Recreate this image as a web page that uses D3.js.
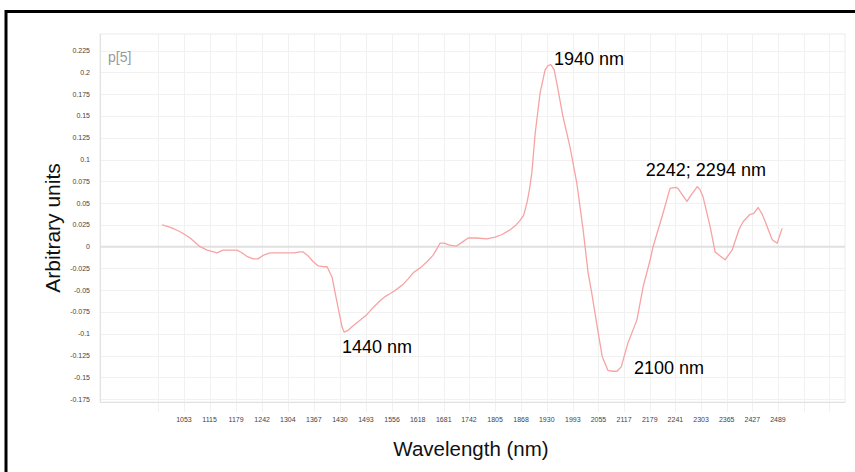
<!DOCTYPE html>
<html>
<head>
<meta charset="utf-8">
<script src="https://cdn.jsdelivr.net/npm/d3@7"></script>
<style>
  html, body { margin: 0; padding: 0; background: #fff; }
  svg { display: block; font-family: "Liberation Sans", Arial, sans-serif; }
</style>
</head>
<body>
<svg id="chart" width="855" height="472"></svg>
<script>
// Spectrum: wavelength (nm) and loading value (arbitrary units)
const wavelengths = [
  1000, 1015, 1026, 1040, 1048, 1068, 1092, 1109, 1125, 1133, 1147, 1165, 1181, 1193,
  1205, 1220, 1232, 1244, 1261, 1280, 1302, 1320, 1333, 1341, 1352, 1365, 1377, 1390,
  1399, 1411, 1423, 1435, 1440, 1450, 1459, 1475, 1495, 1510, 1527, 1540, 1551, 1567,
  1583, 1595, 1607, 1625, 1641, 1655, 1665, 1672, 1682, 1693, 1705, 1713, 1725, 1740,
  1760, 1786, 1805, 1822, 1840, 1856, 1865, 1874, 1882, 1888, 1894, 1902, 1914, 1926,
  1933, 1940, 1948, 1955, 1969, 1986, 2003, 2018, 2030, 2039, 2052, 2064, 2078, 2090,
  2100, 2110, 2126, 2148, 2163, 2180, 2187, 2209, 2228, 2242, 2247, 2260, 2269, 2280,
  2294, 2300, 2308, 2325, 2337, 2350, 2361, 2378, 2395, 2405, 2421, 2430, 2441, 2450,
  2458, 2475, 2487, 2499
];
const loadings = [
  0.025, 0.023, 0.021, 0.018, 0.016, 0.010, 0.000, -0.004, -0.006, -0.007, -0.004, -0.004, -0.004, -0.007,
  -0.011, -0.014, -0.014, -0.010, -0.007, -0.007, -0.007, -0.007, -0.006, -0.006, -0.010, -0.017, -0.022, -0.023,
  -0.023, -0.035, -0.064, -0.092, -0.098, -0.096, -0.092, -0.086, -0.078, -0.070, -0.062, -0.057, -0.054, -0.049,
  -0.043, -0.037, -0.030, -0.024, -0.017, -0.010, -0.002, 0.004, 0.004, 0.002, 0.001, 0.001, 0.005, 0.010,
  0.010, 0.009, 0.011, 0.014, 0.019, 0.025, 0.030, 0.036, 0.050, 0.065, 0.085, 0.130, 0.177, 0.203,
  0.208, 0.209, 0.203, 0.186, 0.150, 0.115, 0.072, 0.019, -0.030, -0.054, -0.092, -0.126, -0.142, -0.143,
  -0.143, -0.138, -0.111, -0.084, -0.046, -0.015, 0.000, 0.035, 0.067, 0.068, 0.067, 0.058, 0.052, 0.060,
  0.069, 0.066, 0.057, 0.023, -0.006, -0.011, -0.015, -0.004, 0.020, 0.029, 0.037, 0.038, 0.045, 0.038,
  0.029, 0.008, 0.004, 0.021
];

// Axis ticks
const xTickValues = [1053, 1115, 1179, 1242, 1304, 1367, 1430, 1493, 1556, 1618, 1681, 1742,
                     1805, 1868, 1930, 1993, 2055, 2117, 2179, 2241, 2303, 2365, 2427, 2489];
const xUnlabeledGrid = [991, 2551, 2613];
const yTickValues = [-0.175, -0.15, -0.125, -0.1, -0.075, -0.05, -0.025, 0,
                     0.025, 0.05, 0.075, 0.1, 0.125, 0.15, 0.175, 0.2, 0.225];

// Band annotations
const annotationText = ["1940 nm", "1440 nm", "2100 nm", "2242; 2294 nm"];
const annotationWl   = [1940, 1440, 2100, 2242];
const annotationVal  = [0.209, -0.098, -0.143, 0.068];

const panelTitle = "p[5]";
const xTitle = "Wavelength (nm)";
const yTitle = "Arbitrary units";

// ---- drawing ----
const svg = d3.select("#chart");
const plot = { left: 100, top: 34, right: 845, bottom: 402 };

const x = d3.scaleLinear().domain([850, 2651]).range([plot.left, plot.right]);
const y = d3.scaleLinear().domain([-0.1783, 0.2442]).range([plot.bottom, plot.top]);

// outer frame
svg.append("rect")
  .attr("x", 6).attr("y", 11.5).attr("width", 900).attr("height", 520)
  .attr("fill", "none").attr("stroke", "#000").attr("stroke-width", 3);

// plot background border
svg.append("rect")
  .attr("x", plot.left).attr("y", plot.top)
  .attr("width", plot.right - plot.left).attr("height", plot.bottom - plot.top)
  .attr("fill", "#fff").attr("stroke", "#ececec").attr("stroke-width", 1);

// horizontal grid
svg.append("g").selectAll("line").data(yTickValues.filter(d => d !== 0)).join("line")
  .attr("x1", plot.left).attr("x2", plot.right)
  .attr("y1", d => Math.round(y(d)) + 0.5).attr("y2", d => Math.round(y(d)) + 0.5)
  .attr("stroke", "#f1f1f1").attr("stroke-width", 1);

// vertical grid, extending below the plot as tick marks
svg.append("g").selectAll("line").data(xTickValues.concat(xUnlabeledGrid)).join("line")
  .attr("x1", d => Math.round(x(d)) + 0.5).attr("x2", d => Math.round(x(d)) + 0.5)
  .attr("y1", plot.top).attr("y2", plot.bottom + 10)
  .attr("stroke", "#f1f1f1").attr("stroke-width", 1);

// left and bottom axis lines
svg.append("line").attr("x1", plot.left + 0.5).attr("x2", plot.left + 0.5)
  .attr("y1", plot.top).attr("y2", plot.bottom).attr("stroke", "#e2e2e2");
svg.append("line").attr("x1", plot.left).attr("x2", plot.right)
  .attr("y1", plot.bottom + 0.5).attr("y2", plot.bottom + 0.5).attr("stroke", "#e2e2e2");

// zero line
svg.append("line")
  .attr("x1", plot.left).attr("x2", plot.right)
  .attr("y1", y(0)).attr("y2", y(0))
  .attr("stroke", "#e0e0e0").attr("stroke-width", 2);

// y tick labels
svg.append("g").selectAll("text").data(yTickValues).join("text")
  .attr("x", 90).attr("y", d => y(d)).attr("dy", "0.35em")
  .attr("text-anchor", "end").attr("font-size", 7).attr("fill", "#444")
  .text(d => String(+d.toFixed(3)));

// x tick labels
svg.append("g").selectAll("text").data(xTickValues).join("text")
  .attr("x", d => x(d)).attr("y", 422)
  .attr("text-anchor", "middle").attr("font-size", 7).attr("fill", "#444")
  .text(d => d);

// spectrum line
const series = wavelengths.map((w, i) => ({ w, v: loadings[i] }));
svg.append("path").datum(series)
  .attr("fill", "none").attr("stroke", "#f7a3a3").attr("stroke-width", 1.3)
  .attr("stroke-linejoin", "round")
  .attr("d", d3.line().x(d => x(d.w)).y(d => y(d.v)));

// annotations (offsets from the annotated point)
const annOffset = [[3, 0], [-2, 21], [17, 3], [-30, -11]];
svg.append("g").selectAll("text").data(annotationText).join("text")
  .attr("x", (d, i) => x(annotationWl[i]) + annOffset[i][0])
  .attr("y", (d, i) => y(annotationVal[i]) + annOffset[i][1])
  .attr("font-size", 18).attr("fill", "#000")
  .text(d => d);

// panel title
svg.append("text").attr("x", 108).attr("y", 62)
  .attr("font-size", 14).attr("fill", "#999").text(panelTitle);

// axis titles
svg.append("text").attr("x", 471).attr("y", 456)
  .attr("text-anchor", "middle").attr("font-size", 20.5).attr("fill", "#111")
  .text(xTitle);
svg.append("text").attr("transform", "translate(60,228) rotate(-90)")
  .attr("text-anchor", "middle").attr("font-size", 21).attr("fill", "#111")
  .text(yTitle);
</script>
</body>
</html>
